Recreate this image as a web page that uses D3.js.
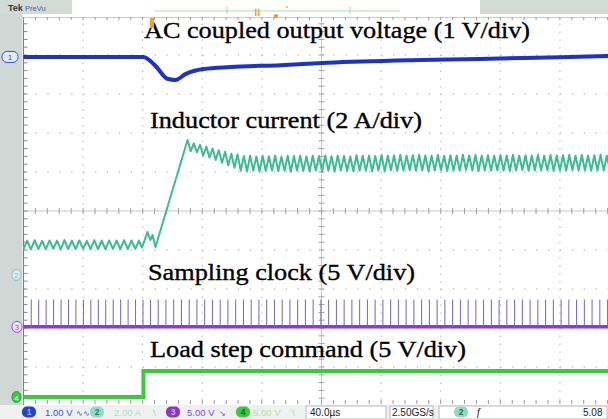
<!DOCTYPE html>
<html><head><meta charset="utf-8">
<script src="https://cdn.jsdelivr.net/npm/d3@7"></script>
<style>
html,body{margin:0;padding:0;background:#fff;overflow:hidden;}
svg{display:block;}
</style></head><body>
<svg id="c" width="608" height="419"></svg>
<script>
// ---------------- DATA ----------------
// time base: 40 us/div, 10 divisions, t in microseconds (0 = screen centre)
const timeDomain = [-200, 200];
const vertDomain = [-5, 5];           // divisions
// channel settings: [CH1, CH2, CH3, CH4]
const chNames = ["1", "2", "3", "4"];
const chScale = [1.00, 2.00, 5.00, 5.00];   // units per division
const chUnits = ["V", "A", "V", "V"];
const chPosition = [3.95, -1.64, -2.97, -4.77]; // ground marker position (div)

// CH1: AC coupled output voltage (V)
const vOutTime = [-200, -119.5, -111.4, -103.4, -98, -91.3, -79.2, -61, -27.5, 4, 66.4, 120, 160, 200];
const vOutVal  = [0, 0, -0.23, -0.56, -0.59, -0.44, -0.31, -0.26, -0.21, -0.15, -0.08, -0.04, -0.01, 0.03];

// CH2: inductor current (A), sampled at switching-ripple vertices
const ilPreStart = -200, ilPreStep = 2.5;
const ilPre = [1.34,1.76,1.31,1.78,1.33,1.75,1.32,1.77,1.34,1.76,1.31,1.79,1.33,1.76,1.32,1.77,
               1.34,1.75,1.32,1.78,1.33,1.76,1.31,1.77,1.34,1.76,1.33,1.78,1.32,1.77,1.34,1.76];
const ilStepTime = [-120.5, -116.8, -114.8, -113.4, -111.4, -89.9];
const ilStepVal  = [1.40, 2.20, 1.79, 2.05, 1.43, 6.92];
const ilPostStart = -87.8, ilPostStep = 2.1;
const ilPost = [6.35,6.75,6.28,6.68,6.12,6.58,6.02,6.48,5.90,6.40,5.75,6.32,5.62,6.22,5.50,6.18,
  5.34,6.10,5.31,6.12,5.35,6.08,5.30,6.11,5.33,6.09,5.36,6.13,5.32,6.07,5.34,6.11,5.29,6.10,5.35,6.12,
  5.33,6.08,5.31,6.11,5.36,6.10,5.32,6.13,5.34,6.09,5.30,6.12,5.35,6.10,5.33,6.08,5.31,6.14,5.36,6.11,
  5.34,6.12,5.32,6.10,5.35,6.15,5.30,6.11,5.37,6.13,5.33,6.16,5.35,6.12,5.38,6.14,5.34,6.17,5.36,6.13,
  5.32,6.12,5.35,6.15,5.37,6.11,5.33,6.14,5.36,6.12,5.34,6.16,5.38,6.13,5.35,6.15,5.33,6.12,5.36,6.14,
  5.34,6.11,5.37,6.15,5.35,6.13,5.33,6.16,5.36,6.12,5.38,6.14,5.34,6.13,5.36,6.17,5.35,6.12,5.37,6.15,
  5.33,6.13,5.36,6.14,5.34,6.16,5.38,6.12,5.35,6.15,5.37,6.13,5.34,6.14,5.36,6.16,5.35,6.12,5.37,6.15,5.34,6.13];

// CH3: sampling clock pulse instants (us) and pulse amplitude (V)
const clkTimes = [-194.8,-189.8,-184.8,-179.8,-174.8,-169.8,-164.8,-159.8,-154.8,-149.8,-144.8,-139.8,-134.8,-129.8,-124.8,-119.8,-114.8,
  -109.6,-104.4,-99.2,-94.0,-88.8,-83.6,-78.4,-73.2,-68.0,-62.8,-57.6,-52.4,-47.2,-42.0,-36.8,-31.6,-26.4,-21.2,-16.0,-10.8,-5.6,-0.4,
  4.8,10.0,15.2,20.4,25.6,30.8,36.0,41.2,46.4,51.6,56.8,62.0,67.2,72.4,77.6,82.8,88.0,93.2,98.4,103.6,108.8,114.0,119.2,124.4,129.6,
  134.8,140.0,145.2,150.4,155.6,160.8,166.0,171.2,176.4,181.6,186.8,192.0,197.2];
const clkAmp = 3.5;

// CH4: load step command (V)
const loadTime = [-200, -119.5, -119.5, 200];
const loadVal  = [0, 0, 3.33, 3.33];

// labels
const labelTexts = ["AC coupled output voltage (1 V/div)", "Inductor current (2 A/div)",
                    "Sampling clock (5 V/div)", "Load step command (5 V/div)"];
const timePerDiv = "40.0\u00B5s", sampleRate = "2.50GS/s", trigLevel = "5.08";

// ---------------- DRAW ----------------
const svg = d3.select("#c");
const W = 608, H = 419;
const x = d3.scaleLinear().domain(timeDomain).range([23.5, 619.5]);
const y = d3.scaleLinear().domain(vertDomain).range([406, 16]);
const colors = ["#1f33c2", "#3dbb92", "#9236e0", "#3cc83c"];

svg.append("rect").attr("width", W).attr("height", H).attr("fill", "#ffffff");

// left strip
svg.append("rect").attr("x", 0).attr("y", 0).attr("width", 22.5).attr("height", 405).attr("fill", "#cfd8d4");
// top bar
svg.append("rect").attr("x", 0).attr("y", 0).attr("width", W).attr("height", 14).attr("fill", "#d3dbd7");
svg.append("rect").attr("x", 72).attr("y", 0).attr("width", 408).attr("height", 14).attr("fill", "#ffffff");
svg.append("text").attr("x", 8).attr("y", 11).attr("font-family", "Arial, Liberation Sans, sans-serif")
  .attr("font-size", 9).attr("font-weight", "bold").attr("fill", "#333").text("Tek");
svg.append("text").attr("x", 25).attr("y", 10.5).attr("font-family", "Arial, Liberation Sans, sans-serif")
  .attr("font-size", 7.5).attr("fill", "#3d5f8c").text("PreVu");
svg.append("line").attr("x1", 155).attr("x2", 400).attr("y1", 11).attr("y2", 11).attr("stroke", "#a6e3a6").attr("stroke-width", 1);
[227, 350].forEach(v => svg.append("line").attr("x1", v).attr("x2", v).attr("y1", 7).attr("y2", 14).attr("stroke", "#c0c8c4"));
svg.append("rect").attr("x", 255).attr("y", 9).attr("width", 1.5).attr("height", 7).attr("fill", "#f0a030");
svg.append("rect").attr("x", 258).attr("y", 9).attr("width", 1.5).attr("height", 7).attr("fill", "#f0a030");
svg.append("circle").attr("cx", 276).attr("cy", 16).attr("r", 2).attr("fill", "#f08a20");
svg.append("circle").attr("cx", 287).attr("cy", 7).attr("r", 1).attr("fill", "#f0b040");

// plot area
const plot = svg.append("g");
svg.append("clipPath").attr("id", "pc").append("rect").attr("x", 23).attr("y", 17).attr("width", W - 23).attr("height", 388);
const clip = plot.append("g").attr("clip-path", "url(#pc)");

// graticule
const gridT = d3.range(-160, 201, 40).filter(v => v !== 0);
const gridD = d3.range(-4, 5, 1).filter(v => v !== 0);
const subX = (x(40) - x(0)) / 5, subY = (y(0) - y(1)) / 5;
gridT.forEach(t => clip.append("line").attr("x1", x(t)).attr("x2", x(t)).attr("y1", y(5)).attr("y2", y(-5))
  .attr("stroke", "#c2c2c2").attr("stroke-width", 1.3).attr("stroke-dasharray", `1.3,${subY - 1.3}`));
gridD.forEach(d => clip.append("line").attr("x1", x(-200)).attr("x2", x(200)).attr("y1", y(d)).attr("y2", y(d))
  .attr("stroke", "#c2c2c2").attr("stroke-width", 1.3).attr("stroke-dasharray", `1.3,${subX - 1.3}`));
// centre cross
clip.append("line").attr("x1", x(-200)).attr("x2", x(200)).attr("y1", y(0)).attr("y2", y(0)).attr("stroke", "#c8c8c8");
clip.append("line").attr("x1", x(0)).attr("x2", x(0)).attr("y1", y(5)).attr("y2", y(-5)).attr("stroke", "#c8c8c8");
d3.range(-200, 200.1, 8).forEach(t => clip.append("line").attr("x1", x(t)).attr("x2", x(t))
  .attr("y1", y(0) - 3).attr("y2", y(0) + 3).attr("stroke", "#a0a0a0"));
d3.range(-5, 5.01, 0.2).forEach(d => clip.append("line").attr("x1", x(0) - 3).attr("x2", x(0) + 3)
  .attr("y1", y(d)).attr("y2", y(d)).attr("stroke", "#a0a0a0"));
// borders with ticks
clip.append("line").attr("x1", x(-200)).attr("x2", x(-200)).attr("y1", y(5)).attr("y2", y(-5)).attr("stroke", "#7d7d7d");
clip.append("line").attr("x1", x(-200)).attr("x2", x(200)).attr("y1", y(5) + 1).attr("y2", y(5) + 1).attr("stroke", "#9a9a9a");
d3.range(-5, 5.01, 0.2).forEach(d => clip.append("line").attr("x1", x(-200)).attr("x2", x(-200) + 4)
  .attr("y1", y(d)).attr("y2", y(d)).attr("stroke", "#888"));
d3.range(-200, 200.1, 8).forEach(t => {
  clip.append("line").attr("x1", x(t)).attr("x2", x(t)).attr("y1", y(5) + 1).attr("y2", y(5) + 4).attr("stroke", "#999");
  clip.append("line").attr("x1", x(t)).attr("x2", x(t)).attr("y1", 404).attr("y2", 400).attr("stroke", "#999");
});

// labels
const lbl = [[144, 38, 386], [150, 128, 272], [148, 280, 267], [150, 357, 316]];
labelTexts.forEach((s, i) => plot.append("text").attr("x", lbl[i][0]).attr("y", lbl[i][1])
  .attr("textLength", lbl[i][2]).attr("lengthAdjust", "spacingAndGlyphs")
  .attr("font-family", "'Liberation Serif','Times New Roman',serif").attr("font-size", 24)
  .attr("fill", "#000").attr("stroke", "#000").attr("stroke-width", 0.35).text(s));

// traces
const chY = (ch, v) => y(chPosition[ch] + v / chScale[ch]);

// CH4 load step
clip.append("path").datum(d3.zip(loadTime, loadVal))
  .attr("d", d3.line().x(d => x(d[0])).y(d => chY(3, d[1])))
  .attr("fill", "none").attr("stroke", colors[3]).attr("stroke-width", 4);

// CH3 sampling clock
clip.append("line").attr("x1", x(-200)).attr("x2", x(200)).attr("y1", chY(2, 0)).attr("y2", chY(2, 0))
  .attr("stroke", colors[2]).attr("stroke-width", 3.5);
clip.selectAll(".clk").data(clkTimes).join("line").attr("class", "clk")
  .attr("x1", d => x(d)).attr("x2", d => x(d)).attr("y1", chY(2, 0)).attr("y2", chY(2, clkAmp))
  .attr("stroke", "#7463bd").attr("stroke-width", 1);

// CH2 inductor current
const ilPts = ilPre.map((v, i) => [ilPreStart + i * ilPreStep, v])
  .concat(d3.zip(ilStepTime, ilStepVal))
  .concat(ilPost.map((v, i) => [ilPostStart + i * ilPostStep, v]));
clip.append("path").datum(ilPts)
  .attr("d", d3.line().x(d => x(d[0])).y(d => chY(1, d[1])))
  .attr("fill", "none").attr("stroke", colors[1]).attr("stroke-width", 2).attr("stroke-linejoin", "round");

// CH1 output voltage
clip.append("path").datum(d3.zip(vOutTime, vOutVal))
  .attr("d", d3.line().curve(d3.curveMonotoneX).x(d => x(d[0])).y(d => chY(0, d[1])))
  .attr("fill", "none").attr("stroke", colors[0]).attr("stroke-width", 4);

// trigger position marker
plot.append("rect").attr("x", 150).attr("y", 18).attr("width", 4).attr("height", 10).attr("fill", "#f0a030");

// channel ground markers (left strip)
const mk = [[2, 18, "#e6eaff", "#3552d0"], [12, 21, "#d6ecf2", "#8fc0d0"], [12, 22, "#f2e4ff", "#9a48e0"], [12, 21, "#3cc83c", "#2aa02a"]];
chPosition.forEach((p, i) => {
  const cy = y(p);
  svg.append("rect").attr("x", mk[i][0]).attr("y", cy - 5.5).attr("width", mk[i][1] - mk[i][0]).attr("height", 11)
    .attr("rx", 5).attr("fill", mk[i][2]).attr("stroke", mk[i][3]).attr("stroke-width", 1);
  svg.append("text").attr("x", (mk[i][0] + mk[i][1]) / 2).attr("y", cy + 3.5).attr("text-anchor", "middle")
    .attr("font-family", "Arial, Liberation Sans, sans-serif").attr("font-size", 8)
    .attr("fill", i === 3 ? "#fff" : mk[i][3]).text(chNames[i]);
});

// status bar
const sb = svg.append("g");
sb.append("rect").attr("x", 0).attr("y", 405).attr("width", W).attr("height", 14).attr("fill", "#eef1ef");
const sf = "Arial, 'Liberation Sans', sans-serif";
const badge = (cx, fill, txt, tc) => {
  sb.append("rect").attr("x", cx - 7).attr("y", 406.5).attr("width", 14).attr("height", 11).attr("rx", 5).attr("fill", fill);
  sb.append("text").attr("x", cx).attr("y", 415).attr("text-anchor", "middle").attr("font-family", sf)
    .attr("font-size", 8.5).attr("font-weight", "bold").attr("fill", tc).text(txt);
};
const stxt = (xx, s, c, fs) => sb.append("text").attr("x", xx).attr("y", 415.5).attr("font-family", sf)
  .attr("font-size", fs || 9.5).attr("fill", c).text(s);
badge(29, "#2244cc", chNames[0], "#9fb0ff");
stxt(45, chScale[0].toFixed(2) + " " + chUnits[0], "#3a55cc");
stxt(76, "\u223F\u223F", "#3a55cc", 8);
badge(97, "#8fdcc4", chNames[1], "#2a7a60");
stxt(114, chScale[1].toFixed(2) + " " + chUnits[1], "#a9dfcf");
stxt(151, "\u2216", "#a9dfcf", 9);
badge(173, "#8a33cc", chNames[2], "#d8b0ff");
stxt(187, chScale[2].toFixed(2) + " " + chUnits[2], "#8a44dd");
stxt(219, "\u2198", "#8a44dd", 8);
badge(243, "#3cc83c", chNames[3], "#0a6a0a");
stxt(253, chScale[3].toFixed(2) + " " + chUnits[3], "#b0e3a8");
stxt(290, "\u2216", "#b0e3a8", 9);
[[303, 387], [387, 434], [436, 608]].forEach(b => {
  sb.append("rect").attr("x", b[0] + 3).attr("y", 406).attr("width", b[1] - b[0] - 4).attr("height", 13)
    .attr("fill", "#ffffff").attr("stroke", "#b8bcba").attr("stroke-width", 1);
});
stxt(310, timePerDiv, "#222", 10);
stxt(392, sampleRate, "#222", 10);
badge(461, "#8fdcc4", chNames[1], "#1f6a52");
stxt(476, "\u0192", "#222", 10);
stxt(583, trigLevel, "#222", 10);
</script>
</body></html>
